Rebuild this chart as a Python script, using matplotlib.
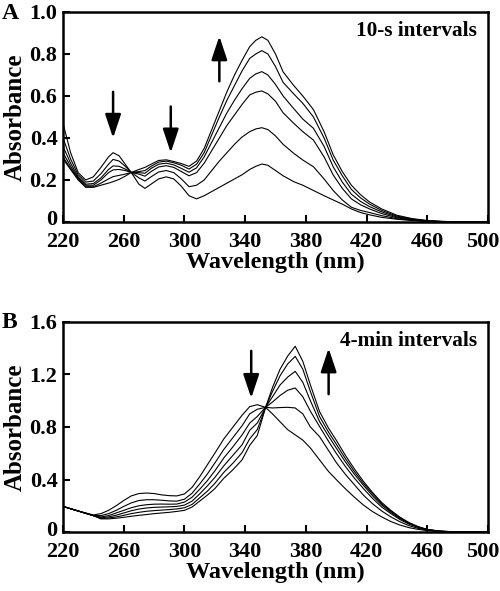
import matplotlib
matplotlib.use("Agg")
import matplotlib.pyplot as plt
import matplotlib.transforms as mtransforms
import numpy as np

plt.rcParams['font.family'] = ['Liberation Serif', 'DejaVu Serif']
plt.rcParams['font.weight'] = 'bold'

# ---------------- Panel A data (10-s intervals) ----------------
wl_A = [220, 225, 230, 235, 240, 245, 250, 253, 257, 261, 265, 270, 274, 278, 283, 288,
        293, 298, 303, 308, 313, 318, 323, 328, 333, 338, 343, 347, 351, 355, 360, 365,
        372, 378, 385, 392, 398, 404, 410, 416, 422, 430, 440, 450, 460, 470, 480, 490, 500]

A0 = [0.47, 0.33, 0.235, 0.20, 0.215, 0.26, 0.31, 0.33, 0.315, 0.275, 0.235, 0.18, 0.16, 0.18, 0.205, 0.215,
      0.205, 0.17, 0.125, 0.11, 0.125, 0.145, 0.165, 0.185, 0.205, 0.225, 0.25, 0.265, 0.276, 0.27, 0.245, 0.22,
      0.192, 0.175, 0.15, 0.125, 0.105, 0.085, 0.062, 0.045, 0.034, 0.022, 0.013, 0.007, 0.003, 0.001, 0.0, 0.0, 0.0]
A1 = [0.40, 0.30, 0.225, 0.19, 0.195, 0.23, 0.275, 0.298, 0.29, 0.265, 0.236, 0.21, 0.195, 0.215, 0.238, 0.245,
      0.235, 0.205, 0.168, 0.175, 0.20, 0.245, 0.29, 0.33, 0.37, 0.405, 0.43, 0.443, 0.449, 0.44, 0.41, 0.37,
      0.327, 0.295, 0.263, 0.205, 0.15, 0.105, 0.07, 0.055, 0.045, 0.03, 0.016, 0.008, 0.003, 0.001, 0.0, 0.0, 0.0]
A2 = [0.36, 0.28, 0.215, 0.18, 0.183, 0.21, 0.25, 0.267, 0.265, 0.252, 0.236, 0.228, 0.218, 0.24, 0.262, 0.268,
      0.26, 0.24, 0.22, 0.235, 0.28, 0.34, 0.40, 0.46, 0.51, 0.56, 0.605, 0.618, 0.624, 0.61, 0.575, 0.52,
      0.47, 0.43, 0.39, 0.31, 0.224, 0.16, 0.11, 0.082, 0.062, 0.04, 0.02, 0.01, 0.004, 0.001, 0.0, 0.0, 0.0]
A3 = [0.33, 0.265, 0.21, 0.175, 0.175, 0.20, 0.235, 0.248, 0.25, 0.245, 0.236, 0.235, 0.232, 0.255, 0.275, 0.28,
      0.272, 0.255, 0.237, 0.258, 0.31, 0.38, 0.45, 0.52, 0.58, 0.635, 0.684, 0.705, 0.716, 0.70, 0.655, 0.60,
      0.54, 0.49, 0.446, 0.36, 0.263, 0.19, 0.132, 0.098, 0.073, 0.048, 0.024, 0.012, 0.005, 0.002, 0.0, 0.0, 0.0]
A4 = [0.31, 0.255, 0.205, 0.168, 0.168, 0.185, 0.205, 0.216, 0.222, 0.228, 0.236, 0.24, 0.245, 0.265, 0.285, 0.29,
      0.282, 0.27, 0.252, 0.275, 0.33, 0.415, 0.50, 0.58, 0.65, 0.72, 0.779, 0.80, 0.816, 0.80, 0.74, 0.665,
      0.61, 0.565, 0.50, 0.40, 0.295, 0.22, 0.155, 0.115, 0.085, 0.055, 0.028, 0.014, 0.006, 0.002, 0.0, 0.0, 0.0]
A5 = [0.30, 0.25, 0.20, 0.165, 0.165, 0.175, 0.185, 0.192, 0.203, 0.218, 0.236, 0.25, 0.26, 0.275, 0.293, 0.296,
      0.288, 0.278, 0.265, 0.29, 0.35, 0.44, 0.53, 0.62, 0.70, 0.77, 0.835, 0.865, 0.882, 0.865, 0.80, 0.715,
      0.65, 0.60, 0.535, 0.43, 0.32, 0.24, 0.175, 0.13, 0.095, 0.062, 0.032, 0.016, 0.007, 0.003, 0.001, 0.0, 0.0]
spectra_A = [A0, A1, A2, A3, A4, A5]

# ---------------- Panel B data (4-min intervals) ----------------
wl_B = [220, 230, 240, 245, 250, 255, 260, 265, 270, 275, 280, 285, 290, 295, 300, 305, 310, 315, 320,
        326, 332, 338, 343, 348, 353.5, 358, 363, 368, 373, 378, 383, 389, 395, 400, 406, 412, 418,
        424, 430, 436, 442, 448, 454, 460, 468, 478, 490, 500]

B0 = [0.195, 0.16, 0.13, 0.14, 0.165, 0.20, 0.24, 0.275, 0.293, 0.297, 0.293, 0.283, 0.277, 0.275, 0.29, 0.34, 0.42, 0.51, 0.60,
      0.71, 0.80, 0.89, 0.955, 0.97, 0.949, 0.90, 0.84, 0.78, 0.74, 0.70, 0.64, 0.55, 0.46, 0.40, 0.33, 0.265, 0.205,
      0.155, 0.115, 0.08, 0.053, 0.033, 0.02, 0.011, 0.004, 0.001, 0.0, 0.0]
B1 = [0.195, 0.16, 0.125, 0.125, 0.14, 0.165, 0.195, 0.222, 0.24, 0.246, 0.246, 0.242, 0.237, 0.235, 0.25, 0.295, 0.365, 0.44, 0.525,
      0.63, 0.72, 0.81, 0.90, 0.935, 0.95, 0.945, 0.948, 0.95, 0.945, 0.90, 0.80, 0.727, 0.62, 0.53, 0.44, 0.36, 0.28,
      0.215, 0.16, 0.115, 0.078, 0.048, 0.028, 0.014, 0.005, 0.001, 0.0, 0.0]
B2 = [0.195, 0.16, 0.125, 0.115, 0.125, 0.145, 0.165, 0.185, 0.20, 0.208, 0.212, 0.213, 0.212, 0.213, 0.228, 0.265, 0.325, 0.39, 0.465,
      0.565, 0.65, 0.74, 0.83, 0.88, 0.95, 0.99, 1.04, 1.08, 1.097, 1.03, 0.92, 0.804, 0.69, 0.60, 0.50, 0.41, 0.33,
      0.255, 0.19, 0.14, 0.095, 0.06, 0.035, 0.017, 0.006, 0.001, 0.0, 0.0]
B3 = [0.195, 0.16, 0.125, 0.108, 0.115, 0.128, 0.145, 0.162, 0.175, 0.183, 0.188, 0.19, 0.192, 0.195, 0.205, 0.235, 0.29, 0.35, 0.415,
      0.505, 0.585, 0.665, 0.775, 0.83, 0.95, 1.03, 1.12, 1.18, 1.224, 1.14, 1.0, 0.842, 0.73, 0.64, 0.535, 0.44, 0.355,
      0.275, 0.205, 0.15, 0.103, 0.065, 0.037, 0.018, 0.006, 0.001, 0.0, 0.0]
B4 = [0.195, 0.16, 0.125, 0.103, 0.107, 0.115, 0.127, 0.14, 0.15, 0.158, 0.163, 0.167, 0.171, 0.176, 0.185, 0.21, 0.26, 0.31, 0.37,
      0.455, 0.525, 0.605, 0.71, 0.78, 0.95, 1.07, 1.19, 1.28, 1.338, 1.24, 1.07, 0.88, 0.76, 0.67, 0.56, 0.46, 0.37,
      0.29, 0.215, 0.158, 0.108, 0.068, 0.039, 0.019, 0.007, 0.001, 0.0, 0.0]
B5 = [0.195, 0.16, 0.125, 0.10, 0.10, 0.105, 0.112, 0.12, 0.127, 0.133, 0.14, 0.145, 0.15, 0.157, 0.165, 0.19, 0.235, 0.28, 0.33,
      0.41, 0.475, 0.55, 0.66, 0.735, 0.95, 1.10, 1.24, 1.34, 1.415, 1.30, 1.12, 0.918, 0.79, 0.70, 0.585, 0.48, 0.385,
      0.30, 0.225, 0.165, 0.113, 0.072, 0.041, 0.02, 0.007, 0.002, 0.0, 0.0]
spectra_B = [B0, B1, B2, B3, B4, B5]

x_ticks = [220, 260, 300, 340, 380, 420, 460, 500]
yticks_A = [0, 0.2, 0.4, 0.6, 0.8, 1.0]
yticklabels_A = ["0", "0.2", "0.4", "0.6", "0.8", "1.0"]
yticks_B = [0, 0.4, 0.8, 1.2, 1.6]
yticklabels_B = ["0", "0.4", "0.8", "1.2", "1.6"]

fig = plt.figure(figsize=(5.0, 5.91), dpi=100)
axA = fig.add_axes([0.126, 0.6244, 0.85, 0.3553])
axB = fig.add_axes([0.126, 0.0998, 0.85, 0.3554])


def shift(label, dx_px, dy_px):
    label.set_transform(label.get_transform() +
                        mtransforms.ScaledTranslation(dx_px / 100, dy_px / 100, fig.dpi_scale_trans))


def style(ax, yticks, ylabels, ymax):
    ax.set_xlim(220, 500)
    ax.set_ylim(0, ymax)
    ax.set_xticks(x_ticks)
    ax.set_xticklabels([str(t) for t in x_ticks])
    ax.set_yticks(yticks)
    ax.set_yticklabels(ylabels)
    ax.tick_params(direction='in', length=5, width=1.5, labelsize=16)
    ax.tick_params(axis='x', pad=7)
    ax.tick_params(axis='y', pad=4)
    for lab in ax.get_xticklabels() + ax.get_yticklabels():
        lab.set_fontweight('bold')
    # lift the "0" label slightly so it sits clear of the "220" label
    shift(ax.get_yticklabels()[0], 0, 4)
    # keep "500" inside the canvas
    shift(ax.get_xticklabels()[-1], -5, 0)
    for s in ax.spines.values():
        s.set_linewidth(1.8)
    ax.set_xlabel("Wavelength (nm)", fontsize=17.5, fontweight='bold', labelpad=0)
    ax.set_ylabel("Absorbance", fontsize=18, fontweight='bold', labelpad=2)


for s in spectra_A:
    axA.plot(wl_A, s, color='black', lw=0.8)
for s in spectra_B:
    axB.plot(wl_B, s, color='black', lw=0.8)

style(axA, yticks_A, yticklabels_A, 1.0)
style(axB, yticks_B, yticklabels_B, 1.6)

arrow_kw = dict(arrowstyle='-|>,head_length=0.9,head_width=0.3', color='black', lw=1.8,
                mutation_scale=16, shrinkA=0, shrinkB=0)
# Panel A arrows
axA.annotate("", xy=(253, 0.40), xytext=(253, 0.62), arrowprops=arrow_kw)
axA.annotate("", xy=(291, 0.33), xytext=(291, 0.55), arrowprops=arrow_kw)
axA.annotate("", xy=(323, 0.885), xytext=(323, 0.67), arrowprops=arrow_kw)
# Panel B arrows
axB.annotate("", xy=(344, 1.02), xytext=(344, 1.38), arrowprops=arrow_kw)
axB.annotate("", xy=(395, 1.40), xytext=(395, 1.05), arrowprops=arrow_kw)

axA.text(0.975, 0.955, "10-s intervals", transform=axA.transAxes, ha='right', va='top',
         fontsize=15.3, fontweight='bold')
axB.text(0.975, 0.955, "4-min intervals", transform=axB.transAxes, ha='right', va='top',
         fontsize=15.3, fontweight='bold')

fig.text(0.004, 0.978, "A", fontsize=17, fontweight='bold', va='center', ha='left')
fig.text(0.004, 0.455, "B", fontsize=17, fontweight='bold', va='center', ha='left')

fig.savefig("out.png", dpi=100)
